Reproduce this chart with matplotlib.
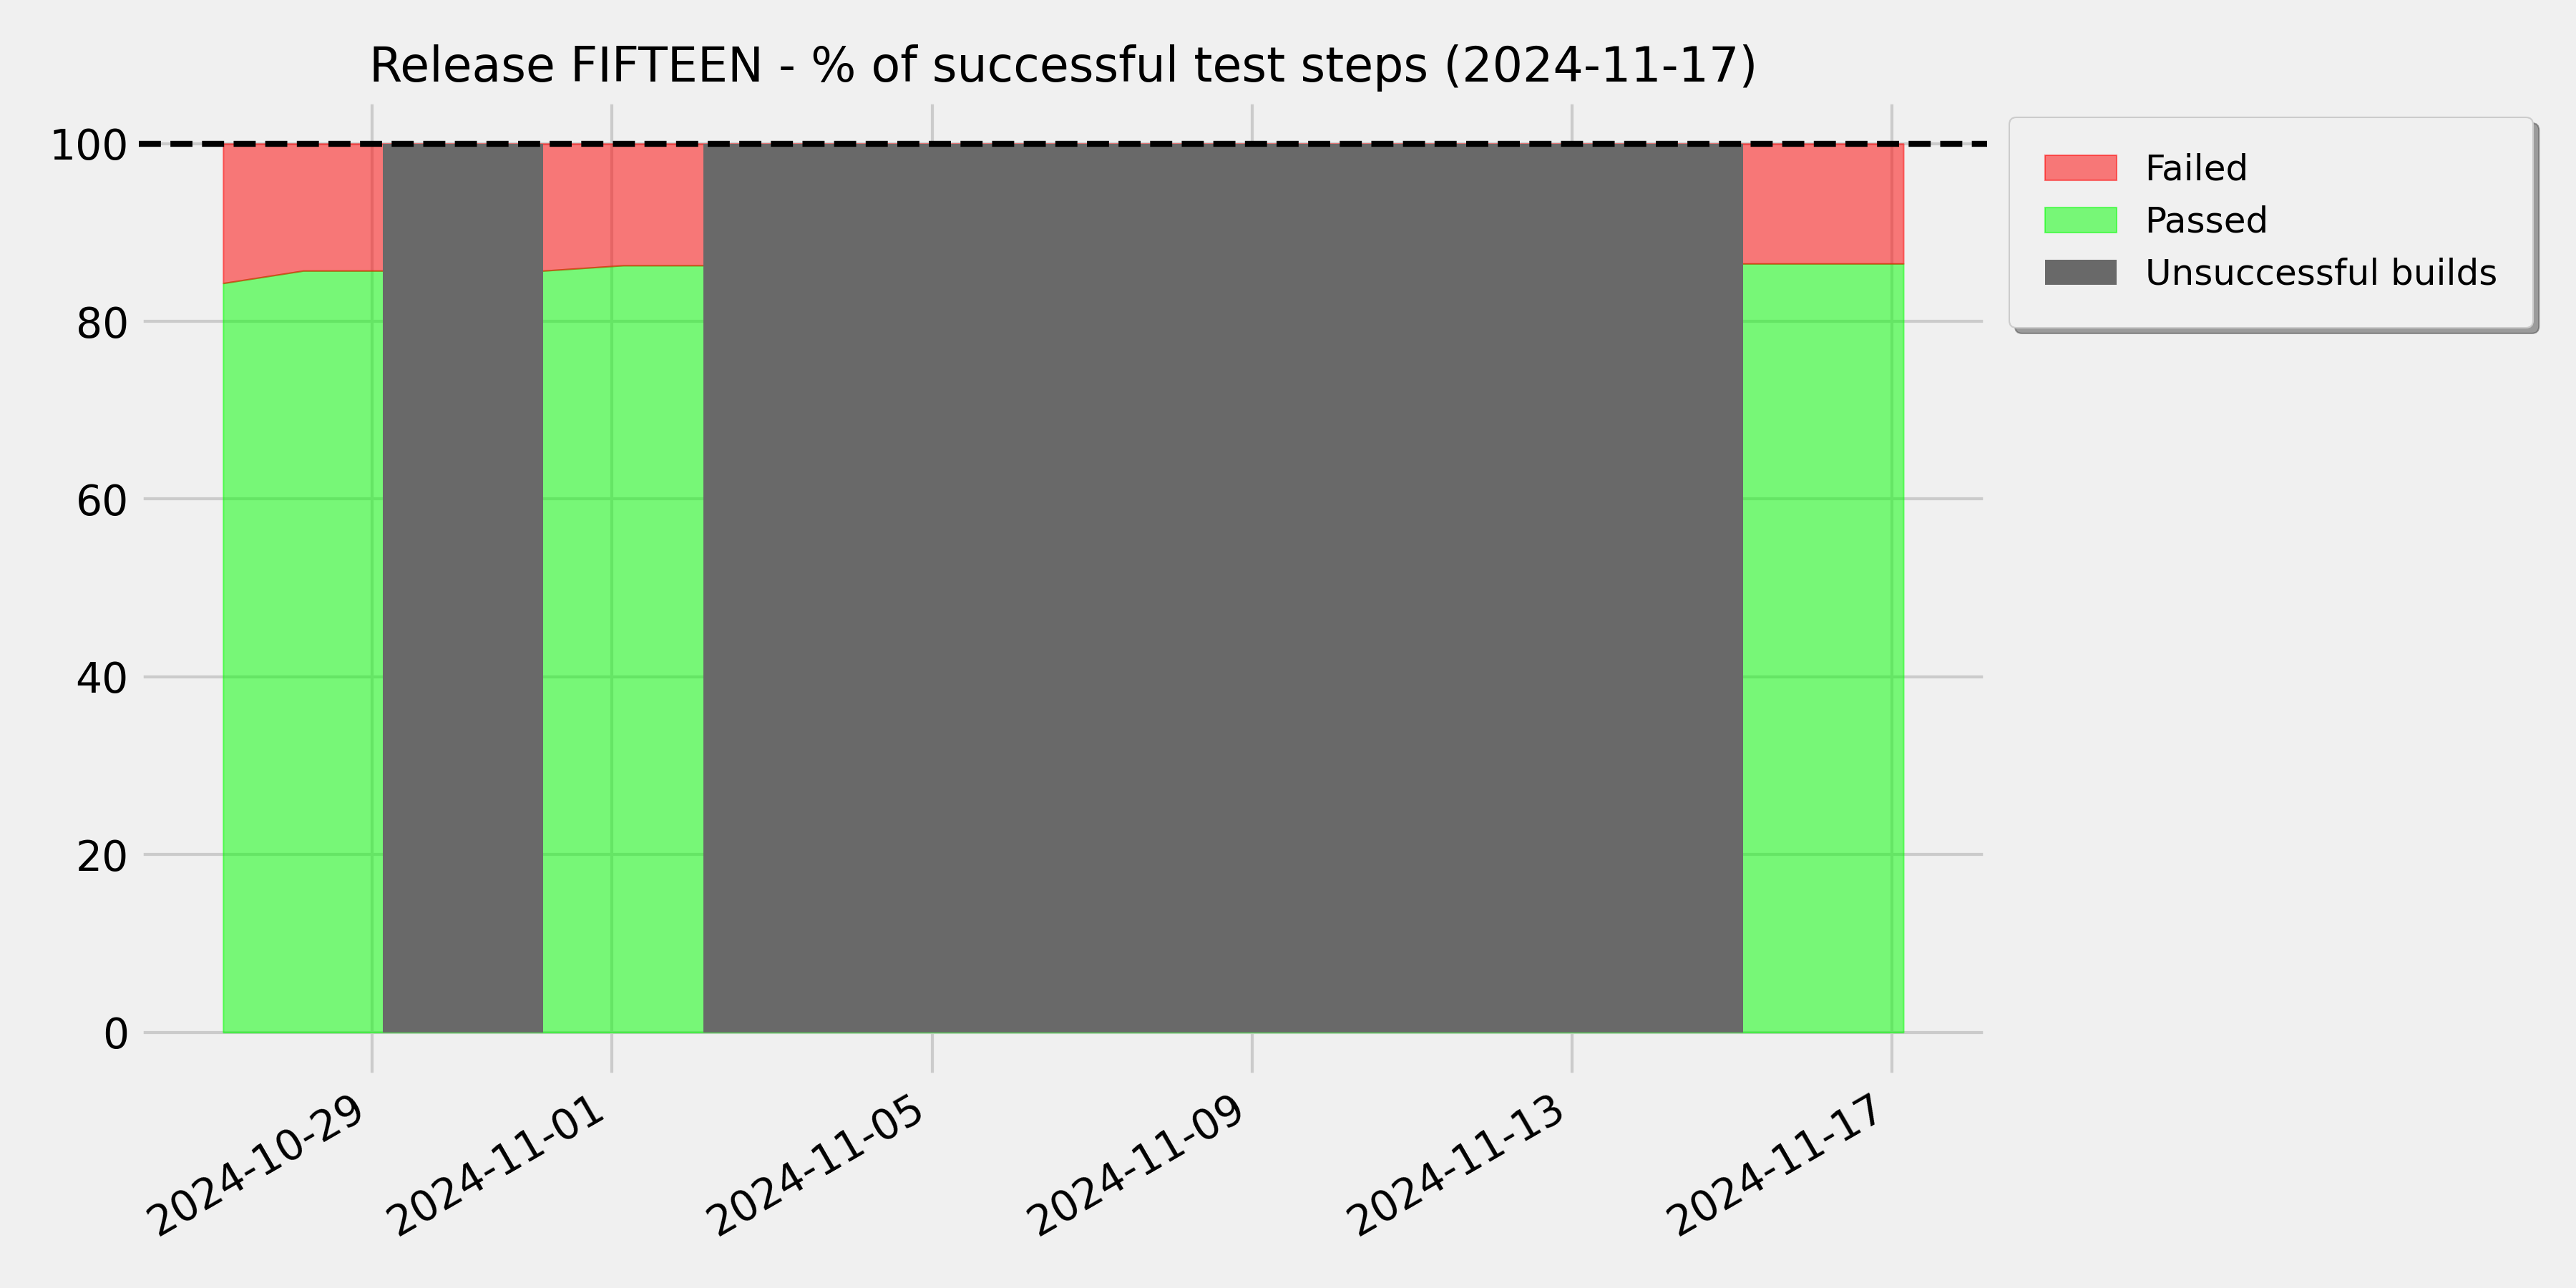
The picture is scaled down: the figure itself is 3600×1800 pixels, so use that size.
import numpy as np
import pandas as pd
import matplotlib
matplotlib.use("Agg")
import matplotlib.pyplot as plt

plt.style.use("fivethirtyeight")

# Data
release = "FIFTEEN"
report_day = "2024-11-17"
build_days = pd.date_range("2024-10-27 03:20", "2024-11-17 03:20", freq="D")

# % of passed test steps per build (carried forward on unsuccessful builds)
passed_pct = [84.3, 85.7, 85.7, 85.7, 85.7, 86.3, 86.3, 86.3, 86.3, 86.3, 86.3,
              86.3, 86.3, 86.3, 86.3, 86.3, 86.3, 86.3, 86.5, 86.5, 86.5, 86.5]
failed_pct = [100 - p for p in passed_pct]

# 1 = the nightly build itself failed
build_failed = [0, 0, 1, 1, 0, 0, 1, 1, 1, 1, 1,
                1, 1, 1, 1, 1, 1, 1, 1, 0, 0, 0]

passed = np.array(passed_pct)
failed = np.array(failed_pct)
unsuccessful = np.array(build_failed) * 100

fig, ax = plt.subplots(figsize=(12, 6), dpi=300)

ax.fill_between(build_days, 0, passed, color="lime", alpha=0.5, label="Passed")
ax.fill_between(build_days, passed, passed + failed, color="red", alpha=0.5, label="Failed")
ax.fill_between(build_days, 0, unsuccessful, step="post", facecolor="dimgray",
                linewidth=0, zorder=2, label="Unsuccessful builds")

ax.axhline(100, color="black", linestyle="--", linewidth=2, zorder=3)

ax.set_title("Release %s - %% of successful test steps (%s)" % (release, report_day),
             fontsize=16)
ax.tick_params(axis="both", labelsize=14)

handles, labels = ax.get_legend_handles_labels()
order = [1, 0, 2]
ax.legend([handles[i] for i in order], [labels[i] for i in order],
          loc="upper left", bbox_to_anchor=(1.002, 1), borderpad=1,
          shadow=True, fancybox=True, fontsize=12)

fig.autofmt_xdate()
fig.subplots_adjust(left=0.054, right=0.7715, top=0.923, bottom=0.164)

plt.savefig("out.png", dpi=300)
